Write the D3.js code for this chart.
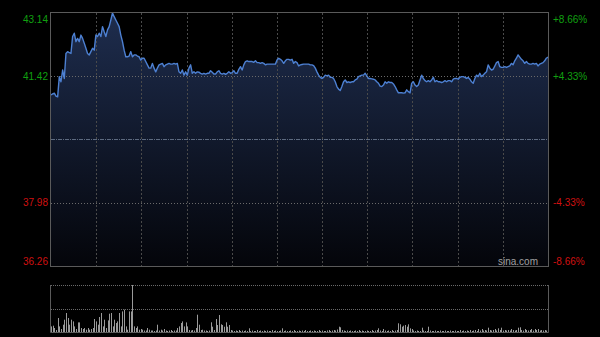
<!DOCTYPE html>
<html>
<head>
<meta charset="utf-8">
<script src="https://cdn.jsdelivr.net/npm/d3@7"></script>
<style>
  html, body { margin: 0; padding: 0; background: #000; }
  svg { display: block; }
  text { font-family: "Liberation Sans", Arial, sans-serif; }
</style>
</head>
<body>
<div id="chart"></div>
<script>
// intraday price samples (HKD), read across the session left to right
const prices = [
  40.91, 40.94, 40.96, 40.88, 40.86, 41.41, 41.27, 41.59, 41.36, 42.04,
  42.09, 42.06, 42.04, 42.50, 42.59, 42.36, 42.45, 42.36, 42.54, 42.45,
  42.32, 42.18, 42.04, 42.00, 42.09, 42.18, 42.13, 42.54, 42.50, 42.59,
  42.50, 42.77, 42.63, 42.50, 42.68, 42.77, 42.95, 43.14, 43.04, 42.95,
  42.86, 42.77, 42.54, 42.36, 42.13, 41.95, 41.95, 41.97, 42.09, 41.95,
  42.00, 42.00, 41.97, 41.95, 41.86, 41.91, 41.91, 41.82, 41.73, 41.64,
  41.64,
  41.77, 41.64, 41.54, 41.64, 41.73, 41.75, 41.77, 41.68, 41.73, 41.75,
  41.77, 41.75, 41.75, 41.77, 41.75, 41.77, 41.54, 41.50, 41.59, 41.45,
  41.54, 41.45, 41.64, 41.73, 41.50, 41.54, 41.50, 41.54, 41.53, 41.50,
  41.48, 41.50, 41.48, 41.50, 41.50, 41.57, 41.53, 41.48, 41.48, 41.54,
  41.57, 41.50, 41.48, 41.50, 41.47, 41.50, 41.54, 41.50, 41.52, 41.57,
  41.50, 41.50, 41.61, 41.68, 41.59, 41.73, 41.82, 41.84, 41.82, 41.82,
  41.82, 41.80, 41.84, 41.79, 41.79, 41.77, 41.79, 41.77, 41.73, 41.75,
  41.75, 41.75, 41.75, 41.75, 41.75, 41.86, 41.91, 41.88, 41.84, 41.77,
  41.84, 41.88, 41.88, 41.86, 41.88, 41.77, 41.82, 41.79, 41.70, 41.73,
  41.74, 41.75, 41.75, 41.75, 41.75, 41.73, 41.73, 41.71, 41.64, 41.54,
  41.45, 41.39, 41.36, 41.39, 41.45, 41.43, 41.45, 41.39, 41.39, 41.36,
  41.27, 41.14, 41.07, 41.03, 41.14, 41.27, 41.32, 41.25, 41.27, 41.25,
  41.27, 41.27, 41.32, 41.34, 41.41, 41.43, 41.45, 41.45, 41.50, 41.43,
  41.36, 41.36, 41.35, 41.34, 41.32, 41.27, 41.23, 41.15, 41.14, 41.18,
  41.27, 41.23, 41.27, 41.25, 41.25, 41.21, 41.14, 41.05, 40.97, 40.97,
  40.97, 40.96, 40.97, 41.05, 41.00, 40.97, 41.23, 41.27, 41.18, 41.14,
  41.18, 41.32, 41.45, 41.36, 41.30, 41.27, 41.30, 41.27, 41.32, 41.39,
  41.27, 41.30, 41.27, 41.27, 41.25, 41.27, 41.30, 41.27, 41.30, 41.30,
  41.27, 41.34, 41.36, 41.36, 41.34, 41.39, 41.41, 41.41, 41.39, 41.36,
  41.39, 41.34, 41.27, 41.23, 41.36, 41.45, 41.41, 41.50, 41.41, 41.45,
  41.50, 41.54, 41.73, 41.64, 41.59, 41.61, 41.70, 41.79, 41.82, 41.68,
  41.66, 41.66, 41.68, 41.66, 41.68, 41.70, 41.77, 41.73, 41.84, 41.91,
  42.00, 41.94, 41.88, 41.84, 41.77, 41.82, 41.77, 41.75, 41.75, 41.77,
  41.75, 41.77, 41.70, 41.75, 41.77, 41.79, 41.84, 41.91, 41.94
];

// volume per sample (relative units, same order as prices)
const volumes = [
  5.6, 6.3, 4, 2, 14, 5.6, 3, 7.3, 12.3, 19,
  14, 7.3, 12.3, 10.6, 5.6, 3, 9.6, 9.6, 4, 3,
  4, 2.3, 4, 2.3, 3, 4, 13, 10.6, 7.3, 15,
  19, 5.6, 12.3, 4, 11.6, 18.3, 19, 5.6, 12.3, 9,
  10.6, 19, 5.6, 20.6, 22.3, 5.6, 2.3, 20.6, 20.6, 47,
  5.6, 4, 5.6, 2.3, 3, 2.3, 1.5, 1.5, 4, 2.3,
  1.5, 1.5, 1, 1.5, 7.3, 1.5, 2.3, 1.5, 3, 1.5,
  1, 1.5, 2, 1, 1.5, 1.5, 4, 5.6, 9, 10.6,
  5.6, 9.6, 5.6, 2, 1.5, 2, 1.5, 4, 17.3, 7.3,
  2, 2.3, 1.5, 1.5, 1, 1.5, 9.7, 5.3, 2, 13,
  7, 17, 7.7, 7, 5.3, 9.7, 5.3, 7, 2, 1.5,
  1, 1.5, 1, 2, 1, 1.5, 1, 1.5, 1, 3.7,
  1, 1.5, 1, 1, 2, 1, 1.5, 1, 1.5, 1,
  1.5, 1, 1, 2, 1, 1.5, 1, 1, 1.5, 3.7,
  1, 1.5, 1, 1, 1.5, 1, 2, 1, 1, 1.5,
  1, 1.5, 1, 2, 1, 1, 1.5, 1, 1.5, 1,
  1, 2, 1, 1.5, 1, 1, 1.5, 2, 1, 1.5,
  2, 1.5, 2.5, 5.3, 4.7, 2, 1.5, 1, 1.5, 1,
  1.5, 1, 1, 1.5, 1, 2, 1, 1.5, 1, 1,
  1.5, 1, 1, 2, 1, 1.5, 2, 3.7, 1.5, 1,
  3, 1.5, 1, 1.5, 1, 2, 1, 1.5, 2, 8.7,
  7.7, 5.3, 6.3, 7, 5.3, 7.7, 3.7, 3, 1.5, 1,
  1.5, 1, 1, 4.3, 1.5, 1, 1, 5.3, 1.5, 1,
  1, 1.5, 1, 1, 1.5, 1, 1, 1.5, 1, 1,
  1.5, 1, 1, 1.5, 1, 1, 2, 1, 1.5, 1,
  1.5, 1, 2, 1, 1.5, 2, 1, 3, 1.5, 3,
  1.5, 2, 1.5, 4.3, 2, 1.5, 2, 3, 1.5, 3.7,
  2, 4.3, 1.5, 2, 1.5, 2, 1.5, 3, 2, 1.5,
  2, 4.3, 4.7, 2, 1.5, 3, 2, 1.5, 2, 3,
  1.5, 3, 2, 3, 1.5, 2, 1.5, 2, 1.5, 2
];

const prevClose = 39.70;
const priceTicks = [43.14, 41.42, 39.70, 37.98, 36.26];
const pctLabels = ["+8.66%", "+4.33%", "", "-4.33%", "-8.66%"];
const sessionMinutes = 330;          // HK session: 9:30-12:00, 13:00-16:00
const gridMinutes = [30, 60, 90, 120, 150, 180, 210, 240, 270, 300];

const W = 600, H = 337;
const plotLeft = 51, plotRight = 548;
const plotTop = 13, plotBottom = 266;
const volTop = 285, volBottom = 332;

let svg = d3.select("#chart")
    .append("svg")
    .attr("width", W)
    .attr("height", H);

let x = d3.scaleLinear().domain([0, sessionMinutes]).range([plotLeft, plotRight]);
let idx = d3.scaleLinear().domain([0, prices.length - 1]).range([0, sessionMinutes]);
let y = d3.scaleLinear().domain([36.26, 43.14]).range([plotBottom, plotTop]);
let yVol = d3.scaleLinear().domain([0, d3.max(volumes)]).range([volBottom, volTop]);

// area gradient
let grad = svg.append("defs").append("linearGradient")
    .attr("id", "fillGrad")
    .attr("gradientUnits", "userSpaceOnUse")
    .attr("x1", 0).attr("y1", plotTop)
    .attr("x2", 0).attr("y2", plotBottom);
grad.append("stop").attr("offset", "0%").attr("stop-color", "#1e2d4e");
grad.append("stop").attr("offset", "100%").attr("stop-color", "#04050a");

let area = d3.area()
    .x((d, i) => x(idx(i)))
    .y0(plotBottom)
    .y1(d => y(d));

svg.append("path")
    .datum(prices)
    .attr("d", area)
    .attr("fill", "url(#fillGrad)");

// vertical grid
svg.append("g").selectAll("line")
    .data(gridMinutes)
    .enter().append("line")
    .attr("x1", d => Math.round(x(d)) + 0.5)
    .attr("x2", d => Math.round(x(d)) + 0.5)
    .attr("y1", plotTop)
    .attr("y2", plotBottom)
    .attr("stroke", "#4a4a4a")
    .attr("stroke-dasharray", "2,2");

// horizontal grid (skip the frame edges)
svg.append("g").selectAll("line")
    .data(priceTicks.filter((d, i) => i > 0 && i < priceTicks.length - 1))
    .enter().append("line")
    .attr("x1", plotLeft)
    .attr("x2", plotRight)
    .attr("y1", d => Math.round(y(d)) + 0.5)
    .attr("y2", d => Math.round(y(d)) + 0.5)
    .attr("stroke", d => d === prevClose ? "#5d6a80" : "#6a6a6a")
    .attr("stroke-dasharray", d => d === prevClose ? "4,1,1,1" : "1,2");

let line = d3.line()
    .x((d, i) => x(idx(i)))
    .y(d => y(d));

svg.append("path")
    .datum(prices)
    .attr("d", line)
    .attr("fill", "none")
    .attr("stroke", "#4d80d2")
    .attr("stroke-width", 1.4)
    .attr("stroke-linejoin", "round");

// frame
svg.append("rect")
    .attr("x", plotLeft - 0.5)
    .attr("y", plotTop - 0.5)
    .attr("width", plotRight - plotLeft + 1)
    .attr("height", plotBottom - plotTop + 1)
    .attr("fill", "none")
    .attr("stroke", "#5a5a5a");

// price labels
const colorOf = d => d > prevClose ? "#10a010" : (d < prevClose ? "#d01010" : "#888");
const labelY = (d, i) => i === 0 ? y(d) + 6 : (i === priceTicks.length - 1 ? y(d) - 5 : y(d));

svg.append("g").selectAll("text")
    .data(priceTicks.filter(d => d !== prevClose))
    .enter().append("text")
    .attr("x", plotLeft - 3)
    .attr("y", d => labelY(d, priceTicks.indexOf(d)))
    .attr("dy", "0.35em")
    .attr("text-anchor", "end")
    .attr("font-size", 10)
    .attr("fill", colorOf)
    .text(d => d.toFixed(2));

svg.append("g").selectAll("text")
    .data(priceTicks.filter(d => d !== prevClose))
    .enter().append("text")
    .attr("x", plotRight + 5)
    .attr("y", d => labelY(d, priceTicks.indexOf(d)))
    .attr("dy", "0.35em")
    .attr("text-anchor", "start")
    .attr("font-size", 10)
    .attr("fill", colorOf)
    .text(d => pctLabels[priceTicks.indexOf(d)]);

svg.append("text")
    .attr("x", plotRight - 10)
    .attr("y", plotBottom - 5)
    .attr("dy", "0.35em")
    .attr("text-anchor", "end")
    .attr("font-size", 10)
    .attr("fill", "#a0a0a0")
    .text("sina.com");

// volume panel
let vol = svg.append("g");

vol.selectAll("line.vgrid")
    .data([d3.max(volumes), d3.max(volumes) / 2])
    .enter().append("line")
    .attr("class", "vgrid")
    .attr("x1", plotLeft)
    .attr("x2", plotRight)
    .attr("y1", d => Math.round(yVol(d)) + 0.5)
    .attr("y2", d => Math.round(yVol(d)) + 0.5)
    .attr("stroke", "#6a6a6a")
    .attr("stroke-dasharray", "1,1");

vol.selectAll("line.bar")
    .data(volumes)
    .enter().append("line")
    .attr("class", "bar")
    .attr("x1", (d, i) => Math.round(x(idx(i))) + 0.5)
    .attr("x2", (d, i) => Math.round(x(idx(i))) + 0.5)
    .attr("y1", volBottom)
    .attr("y2", d => yVol(d))
    .attr("stroke", "#9a9a9a")
    .attr("stroke-width", 1);

vol.append("path")
    .attr("d", `M${plotLeft - 0.5},${volTop}V${volBottom + 0.5}H${plotRight + 0.5}V${volTop}`)
    .attr("fill", "none")
    .attr("stroke", "#5a5a5a");
</script>
</body>
</html>
